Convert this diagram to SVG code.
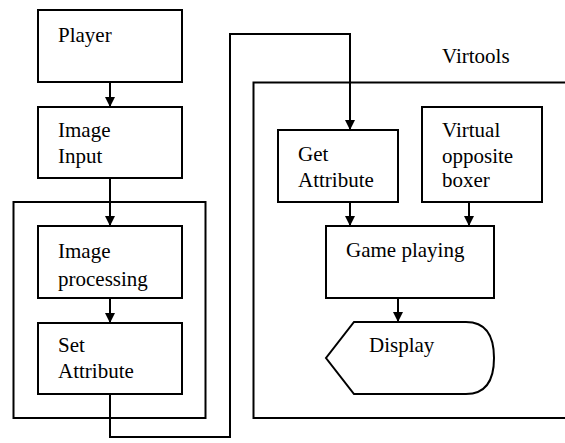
<svg xmlns="http://www.w3.org/2000/svg" width="565" height="443" viewBox="0 0 565 443" font-family="'Liberation Serif', 'Times New Roman', 'DejaVu Serif', serif" font-size="21">
<style>
.box{fill:#fff;stroke:#000;stroke-width:2}
.frame{fill:none;stroke:#000;stroke-width:2}
.ln{fill:none;stroke:#000;stroke-width:2}
text{font-family:"Liberation Serif","Times New Roman","DejaVu Serif",serif;font-size:21px;fill:#000}
</style>
<defs>
<marker id="ah" markerWidth="10" markerHeight="10" refX="10" refY="5" orient="auto" markerUnits="userSpaceOnUse">
<path d="M0,0 L10,5 L0,10 Z" fill="#000"/>
</marker>
</defs>
<rect x="0" y="0" width="565" height="443" fill="#fff"/>
<g id="frames">
<rect class="frame" x="13.5" y="202" width="192" height="216"/>
<path class="frame" d="M570,82.5 H253.5 V418 H570"/>
<text x="442" y="63">Virtools</text>
</g>
<g id="player"><rect class="box" x="38" y="10" width="144" height="72"/><text x="58" y="42">Player</text></g>
<g id="image-input"><rect class="box" x="38" y="107" width="144" height="71"/><text x="58" y="137">Image</text><text x="58" y="163">Input</text></g>
<g id="image-processing"><rect class="box" x="38" y="226" width="144" height="72"/><text x="58" y="258">Image</text><text x="58" y="286">processing</text></g>
<g id="set-attribute"><rect class="box" x="38" y="323" width="144" height="71"/><text x="58" y="352">Set</text><text x="58" y="378">Attribute</text></g>
<g id="get-attribute"><rect class="box" x="278" y="130" width="120" height="72"/><text x="298" y="161">Get</text><text x="298" y="187">Attribute</text></g>
<g id="virtual-boxer"><rect class="box" x="422" y="107" width="120" height="95"/><text x="442" y="137">Virtual</text><text x="442" y="163">opposite</text><text x="442" y="187">boxer</text></g>
<g id="game-playing"><rect class="box" x="326" y="226" width="168" height="72"/><text x="346" y="257">Game playing</text></g>
<g id="display"><path class="box" d="M354,322 H466 Q494,322 494,358 Q494,394 466,394 H354 L326,358 Z"/><text x="369" y="352">Display</text></g>
<g id="connectors">
<line class="ln" x1="110" y1="82" x2="110" y2="107" marker-end="url(#ah)"/>
<line class="ln" x1="110" y1="178" x2="110" y2="226" marker-end="url(#ah)"/>
<line class="ln" x1="110" y1="298" x2="110" y2="323" marker-end="url(#ah)"/>
<path class="ln" d="M110,394 V437 H230 V34 H350 V130" marker-end="url(#ah)"/>
<line class="ln" x1="350" y1="202" x2="350" y2="226" marker-end="url(#ah)"/>
<line class="ln" x1="469" y1="202" x2="469" y2="226" marker-end="url(#ah)"/>
<line class="ln" x1="398" y1="298" x2="398" y2="322" marker-end="url(#ah)"/>
</g>
</svg>
